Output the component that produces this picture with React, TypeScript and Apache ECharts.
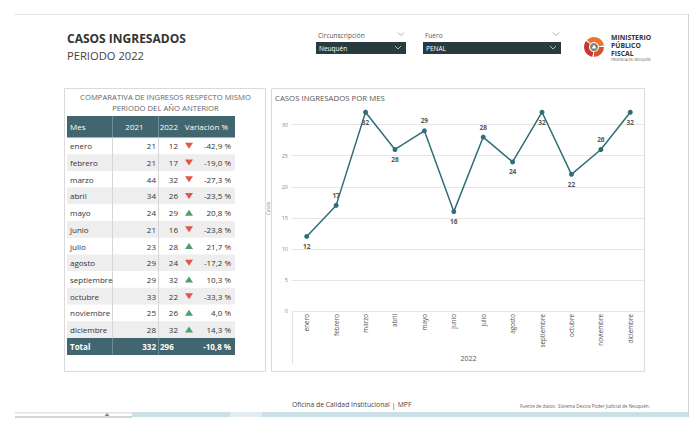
import React, { useEffect, useRef } from "react";
import * as echarts from "echarts";

const months = ["enero", "febrero", "marzo", "abril", "mayo", "junio", "julio", "agosto", "septiembre", "octubre", "noviembre", "diciembre"];
const cases2021 = [21, 21, 44, 34, 24, 21, 23, 29, 29, 33, 25, 28];
const cases2022 = [12, 17, 32, 26, 29, 16, 28, 24, 32, 22, 26, 32];
const variation = ["-42,9 %", "-19,0 %", "-27,3 %", "-23,5 %", "20,8 %", "-23,8 %", "21,7 %", "-17,2 %", "10,3 %", "-33,3 %", "4,0 %", "14,3 %"];
const trendUp = [false, false, false, false, true, false, true, false, true, false, true, true];
const total2021 = 332;
const total2022 = 296;
const totalVariation = "-10,8 %";
const labelPos = ["bottom", "top", "bottom", "bottom", "top", "bottom", "top", "bottom", "bottom", "bottom", "top", "bottom"];
const tableHeaders = ["Mes", "2021", "2022", "Variación %"];
const logoLines = ["MINISTERIO", "PÚBLICO", "FISCAL"];

const FONT = "'Open Sans', 'Noto Sans', sans-serif";
const TEAL = "#41666f";
const LINE = "#2f6e79";

function txt(text: string, x: number, y: number, o: any = {}) {
  return {
    type: "text",
    x,
    y,
    z: o.z ?? 10,
    style: {
      text,
      fontFamily: FONT,
      fontSize: o.size ?? 8,
      fontWeight: o.weight ?? "normal",
      fill: o.color ?? "#333",
      align: o.align ?? "left",
      verticalAlign: o.valign ?? "middle",
      lineHeight: o.lineHeight,
      rich: o.rich,
    },
  };
}

function chevron(x: number, y: number, color: string) {
  return {
    type: "polyline",
    z: 10,
    shape: { points: [[x - 3, y - 1.5], [x, y + 1.5], [x + 3, y - 1.5]] },
    style: { stroke: color, lineWidth: 0.8, fill: null },
  };
}

function buildGraphics() {
  const g: any[] = [];
  // page frame
  g.push({ type: "line", z: 1, shape: { x1: 14, y1: 14.5, x2: 688, y2: 14.5 }, style: { stroke: "#e6e6e6", lineWidth: 1 } });
  g.push({ type: "line", z: 1, shape: { x1: 688.5, y1: 14, x2: 688.5, y2: 417 }, style: { stroke: "#d2d2d2", lineWidth: 1 } });

  // titles
  g.push(txt("CASOS INGRESADOS", 67, 38.5, { size: 12, weight: "bold", color: "#333" }));
  g.push(txt("PERIODO 2022", 67, 55.5, { size: 11.2, color: "#444" }));

  // slicers
  g.push(txt("Circunscripción", 318, 35, { size: 6.5, color: "#555" }));
  g.push(chevron(401, 34, "#999"));
  g.push({ type: "rect", z: 5, shape: { x: 316, y: 42, width: 90, height: 12 }, style: { fill: "#283b40" } });
  g.push(txt("Neuquén", 319, 48.5, { size: 6.5, color: "#fff" }));
  g.push(chevron(398, 47.5, "#cfd8da"));
  g.push(txt("Fuero", 425, 35, { size: 6.5, color: "#555" }));
  g.push(chevron(556, 34, "#999"));
  g.push({ type: "rect", z: 5, shape: { x: 423, y: 42, width: 138, height: 12 }, style: { fill: "#283b40" } });
  g.push(txt("PENAL", 426, 48.5, { size: 6.5, color: "#fff" }));
  g.push(chevron(553, 47.5, "#cfd8da"));

  // logo
  const cx = 594, cy = 47;
  const segs = [
    { s: Math.PI * 0.55, e: Math.PI * 1.2, c: "#c8372d" },
    { s: Math.PI * 1.25, e: Math.PI * 1.95, c: "#e9762b" },
    { s: Math.PI * 0.0, e: Math.PI * 0.5, c: "#d4542c" },
  ];
  segs.forEach((sg) =>
    g.push({ type: "sector", z: 10, shape: { cx, cy, r: 10, r0: 5, startAngle: sg.s, endAngle: sg.e }, style: { fill: sg.c } })
  );
  g.push({ type: "circle", z: 11, shape: { cx, cy, r: 4 }, style: { fill: "#7d7d7d" } });
  g.push({ type: "polygon", z: 12, shape: { points: [[cx - 2.5, cy + 1.5], [cx + 2.5, cy + 1.5], [cx, cy - 2.5]] }, style: { fill: "#fff" } });
  logoLines.forEach((l, i) => g.push(txt(l, 611, 37 + i * 8.2, { size: 6.8, weight: "bold", color: "#333" })));
  g.push(txt("PROVINCIA DEL NEUQUÉN", 611, 60, { size: 3.2, color: "#555" }));

  // panels
  g.push({ type: "rect", z: 1, shape: { x: 64.5, y: 88.5, width: 201, height: 283 }, style: { fill: "none", stroke: "#dadada", lineWidth: 1 } });
  g.push({ type: "rect", z: 1, shape: { x: 271.5, y: 88.5, width: 373, height: 283 }, style: { fill: "none", stroke: "#dadada", lineWidth: 1 } });

  // table
  g.push(txt("COMPARATIVA DE INGRESOS RESPECTO MISMO", 165.5, 96.5, { size: 7.7, color: "#666", align: "center" }));
  g.push(txt("PERIODO DEL AÑO ANTERIOR", 165.5, 107.5, { size: 7.7, color: "#666", align: "center" }));
  const tx0 = 67, tw = 168, headTop = 116, headH = 21.5, rowH = 16.7;
  g.push({ type: "rect", z: 3, shape: { x: tx0, y: headTop, width: tw, height: headH }, style: { fill: TEAL } });
  const hy = headTop + headH / 2;
  g.push(txt(tableHeaders[0], 70, hy, { color: "#fff" }));
  g.push(txt(tableHeaders[1], 134.5, hy, { color: "#fff", align: "center" }));
  g.push(txt(tableHeaders[2], 178, hy, { color: "#fff", align: "right" }));
  g.push(txt(tableHeaders[3], 228, hy, { color: "#fff", align: "right" }));
  const bodyTop = headTop + headH;
  months.forEach((m, i) => {
    const top = bodyTop + i * rowH;
    const cyy = top + rowH / 2;
    if (i % 2 === 1) g.push({ type: "rect", z: 3, shape: { x: tx0, y: top, width: tw, height: rowH }, style: { fill: "#eeeeee" } });
    g.push(txt(m, 70, cyy, { color: "#333" }));
    g.push(txt(String(cases2021[i]), 156, cyy, { color: "#333", align: "right" }));
    g.push(txt(String(cases2022[i]), 178, cyy, { color: "#333", align: "right" }));
    const up = trendUp[i];
    const pts = up
      ? [[185, cyy + 3], [193, cyy + 3], [189, cyy - 3]]
      : [[185, cyy - 3], [193, cyy - 3], [189, cyy + 3]];
    g.push({ type: "polygon", z: 10, shape: { points: pts }, style: { fill: up ? "#4f9e6d" : "#e0574b" } });
    g.push(txt(variation[i], 231, cyy, { color: "#333", align: "right" }));
  });
  const totTop = bodyTop + 12 * rowH;
  g.push({ type: "rect", z: 3, shape: { x: tx0, y: totTop, width: tw, height: rowH + 0.5 }, style: { fill: TEAL } });
  const ty = totTop + rowH / 2;
  g.push(txt("Total", 70, ty, { color: "#fff", weight: "bold" }));
  g.push(txt(String(total2021), 156, ty, { color: "#fff", weight: "bold", align: "right" }));
  g.push(txt(String(total2022), 160, ty, { color: "#fff", weight: "bold", align: "left" }));
  g.push(txt(totalVariation, 231, ty, { color: "#fff", weight: "bold", align: "right" }));
  [112.5, 158.5].forEach((x) => {
    g.push({ type: "line", z: 4, shape: { x1: x, y1: headTop, x2: x, y2: bodyTop }, style: { stroke: "rgba(255,255,255,0.25)", lineWidth: 1 } });
    g.push({ type: "line", z: 4, shape: { x1: x, y1: bodyTop, x2: x, y2: totTop }, style: { stroke: "#d6d6d6", lineWidth: 1 } });
    g.push({ type: "line", z: 4, shape: { x1: x, y1: totTop, x2: x, y2: totTop + rowH }, style: { stroke: "rgba(255,255,255,0.25)", lineWidth: 1 } });
  });

  // chart title
  g.push(txt("CASOS INGRESADOS POR MES", 275, 97.5, { size: 7.8, color: "#555" }));
  g.push({ type: "line", z: 4, shape: { x1: 292.5, y1: 312, x2: 292.5, y2: 364 }, style: { stroke: "#e2e2e2", lineWidth: 1 } });

  // footer
  g.push(
    txt("Oficina de Calidad Institucional {r||} MPF", 292, 404.5, {
      size: 6.8,
      color: "#444",
      rich: { r: { fill: "#d9432e", fontSize: 8, fontFamily: FONT } },
    })
  );
  g.push(txt("Fuente de datos:  Sistema Dextra Poder Judicial de Neuquén.", 520, 406, { size: 4.6, color: "#666" }));

  // bottom bar
  g.push({ type: "rect", z: 2, shape: { x: 15, y: 412, width: 117, height: 5 }, style: { fill: "#fff" } });
  g.push({ type: "rect", z: 2, shape: { x: 15, y: 412, width: 117, height: 1.5 }, style: { fill: "#e2e2e2" } });
  g.push({ type: "line", z: 2, shape: { x1: 15, y1: 417, x2: 132, y2: 417 }, style: { stroke: "#aaa", lineWidth: 1 } });
  g.push({ type: "polygon", z: 3, shape: { points: [[104.5, 416], [109.5, 416], [107, 413]] }, style: { fill: "#888" } });
  g.push({ type: "rect", z: 2, shape: { x: 132, y: 412, width: 556, height: 5 }, style: { fill: "#cbdfe7" } });
  g.push({ type: "rect", z: 2, shape: { x: 230, y: 412, width: 32, height: 5 }, style: { fill: "#e3edf1" } });
  return g;
}

export default function App() {
  const ref = useRef<HTMLDivElement>(null);
  useEffect(() => {
    document.body.style.margin = "0";
    const chart = echarts.init(ref.current!, null, { renderer: "svg" });
    chart.setOption({
      animation: false,
      backgroundColor: "#ffffff",
      textStyle: { fontFamily: FONT },
      graphic: { elements: buildGraphics() },
      grid: { left: 292, right: 52, top: 106, bottom: 121, containLabel: false },
      xAxis: {
        type: "category",
        data: months,
        boundaryGap: true,
        axisLine: { show: false },
        axisTick: { show: false },
        axisLabel: { rotate: 90, fontSize: 6.3, color: "#555", margin: 3, fontFamily: FONT, interval: 0 },
        name: "2022",
        nameLocation: "middle",
        nameGap: 44,
        nameTextStyle: { fontSize: 7, color: "#555", fontFamily: FONT },
      },
      yAxis: {
        type: "value",
        min: 0,
        max: 33,
        interval: 5,
        axisLine: { show: false },
        axisTick: { show: false },
        axisLabel: { fontSize: 5.5, color: "#888", margin: 4, showMaxLabel: false, fontFamily: FONT },
        splitLine: { show: true, showMaxLine: false, lineStyle: { color: "#e6e6e6", width: 1 } },
        name: "Casos",
        nameLocation: "middle",
        nameRotate: 90,
        nameGap: 13,
        nameTextStyle: { fontSize: 5, color: "#888", fontFamily: FONT },
      },
      series: [
        {
          type: "line",
          data: cases2022.map((v, i) => ({ value: v, label: { position: labelPos[i] } })),
          symbol: "circle",
          symbolSize: 5,
          lineStyle: { color: LINE, width: 1.5 },
          itemStyle: { color: LINE },
          label: { show: true, fontSize: 6.5, fontWeight: "bold", color: "#555", distance: 4, fontFamily: FONT },
          z: 5,
        },
      ],
    });
    return () => chart.dispose();
  }, []);
  return <div ref={ref} style={{ position: "fixed", left: 0, top: 0, width: 697, height: 432 }} />;
}
